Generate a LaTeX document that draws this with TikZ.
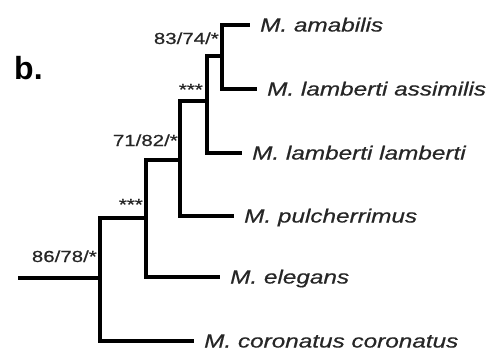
\documentclass[tikz,border=0pt]{standalone}
\usepackage{fontspec}
\setmainfont{Liberation Sans}
\newfontfamily\taxfont[FakeStretch=1.28,FakeBold=0.6]{Liberation Sans}
\usetikzlibrary{calc}

\begin{document}
\begin{tikzpicture}[x=1pt,y=-1pt,
  branch/.style={line width=3.2pt,line cap=rect},
  taxon/.style={anchor=west,inner xsep=12pt,inner ysep=0pt,text height=13pt,text depth=0pt,
    text=black!85,font=\taxfont\itshape\fontsize{19}{21}\selectfont},
  supp/.style={anchor=base east,inner sep=0pt,text=black!85,font=\taxfont\fontsize{16}{18}\selectfont}]
\useasboundingbox (0,0) rectangle (492,356);

% panel letter
\node[anchor=base west,inner sep=0pt,font=\bfseries\fontsize{32}{34}\selectfont] (panel) at (14,79) {b.};

% internal nodes of the tree
\coordinate (base) at (20,278);
\coordinate (n1) at (100,278);
\coordinate (n2) at (146,218);
\coordinate (n3) at (180,160);
\coordinate (n4) at (207,101);
\coordinate (n5) at (222,56);

% tips
\node[taxon] (cor) at (192,341) {M. coronatus coronatus};
\node[taxon] (ele) at (218,277) {M. elegans};
\node[taxon] (pul) at (232,216) {M. pulcherrimus};
\node[taxon] (lla) at (240,153) {M. lamberti lamberti};
\node[taxon] (ama) at (248,25) {M. amabilis};
\node[taxon] (las) at (255,89) {M. lamberti assimilis};

% branches
\draw[branch] (base) -- (n1);
\draw[branch] (n2) -| (n1) |- (cor.west);
\draw[branch] (n3) -| (n2) |- (ele.west);
\draw[branch] (n4) -| (n3) |- (pul.west);
\draw[branch] (n5) -| (n4) |- (lla.west);
\draw[branch] (ama.west) -| (n5) |- (las.west);

% support values
\node[supp] (s1) at ($(n1)+(-3,-16)$) {86/78/*};
\node[supp] (s2) at ($(n2)+(-3,-8)$) {***};
\node[supp] (s3) at ($(n3)+(-2,-14)$) {71/82/*};
\node[supp] (s4) at ($(n4)+(-4,-6)$) {***};
\node[supp] (s5) at ($(n5)+(-3,-12)$) {83/74/*};

\end{tikzpicture}
\end{document}
